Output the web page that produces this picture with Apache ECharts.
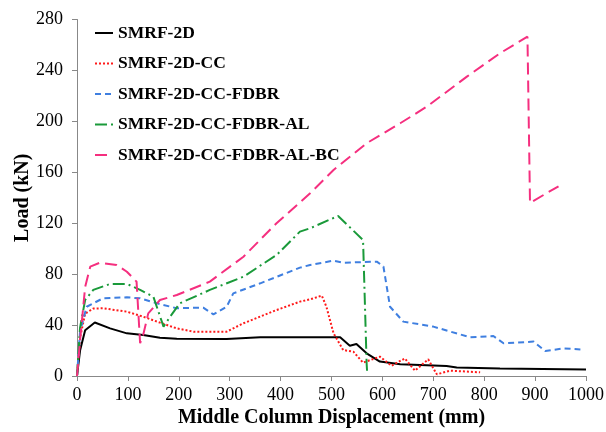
<!DOCTYPE html>
<html>
<head>
<meta charset="utf-8">
<script src="https://cdn.jsdelivr.net/npm/echarts@6/dist/echarts.min.js"></script>
<style>
  html, body { margin: 0; padding: 0; background: #fff; }
  #main { width: 606px; height: 432px; }
</style>
</head>
<body>
<div id="main"></div>
<script>
// [displacement mm, load kN]
const smrf2d = [[0, 0], [6, 20], [16, 36], [35, 42], [65, 37.4], [98, 33.5], [130, 32.2], [163, 30.1],
  [196, 29.3], [294, 29.1], [360, 30.4], [458, 30.4], [517, 30.4], [536, 23.8], [549, 25.1],
  [569, 17.8], [595, 11.3], [635, 9.2], [726, 7.9], [746, 6.6], [831, 5.8], [1000, 5.2]];

const smrf2dCC = [[0, 0], [6, 30], [16, 49], [32, 53], [51, 53.2], [98, 50.5], [130, 46.6], [163, 41.9],
  [196, 37.4], [229, 34.8], [294, 34.8], [327, 41.4], [392, 51.8], [438, 58.4], [458, 60.2],
  [481, 63.1], [490, 54.4], [504, 33.5], [523, 20.4], [543, 19.1], [562, 10.5], [595, 15.2],
  [618, 8.1], [644, 13.8], [664, 4.2], [690, 13.1], [707, 1.3], [733, 4.2], [792, 2.9]];

const smrf2dCCFdbr = [[0, 0], [6, 35], [19, 54.4], [51, 61], [98, 61.8], [124, 61], [157, 57.1], [196, 53.2],
  [248, 53.7], [268, 48.4], [294, 54.4], [307, 64.9], [360, 72.8], [438, 85.1], [458, 87.2],
  [504, 90.6], [523, 89], [589, 89.8], [602, 86], [615, 54.4], [641, 42.7], [700, 38.8],
  [772, 30.4], [818, 31.4], [838, 25.7], [897, 27], [920, 19.6], [956, 21.7], [989, 20.9]];

const smrf2dCCFdbrAL = [[0, 0], [6, 38], [16, 59.7], [32, 67.6], [65, 72.3], [98, 72.3], [124, 67.6],
  [150, 62.3], [170, 38.8], [183, 46.6], [202, 57.1], [261, 67.6], [327, 78], [392, 95],
  [438, 113.4], [458, 116], [513, 125.7], [562, 106.8], [569, 10], [570, 3]];

const smrf2dCCFdbrALBC = [[0, 0], [6, 28], [16, 70], [26, 85.9], [45, 89], [78, 87.2], [98, 81.9],
  [117, 74.1], [124, 25.7], [130, 32.2], [140, 49.2], [163, 59.7], [196, 63.6], [261, 74.1],
  [327, 93.7], [392, 120], [458, 143.5], [504, 161.8], [569, 182.8], [635, 198.5], [687, 211.5],
  [766, 235.1], [831, 253.5], [885, 266.5], [890, 136], [946, 149]];

const xTicks = { min: 0, max: 1000, interval: 100 };
const yTicks = { min: 0, max: 280, interval: 40 };

const font = 'Liberation Serif';
const chart = echarts.init(document.getElementById('main'), null, { renderer: 'canvas' });

function line(name, data, color, type, width) {
  return {
    name: name,
    type: 'line',
    data: data,
    showSymbol: false,
    symbol: 'none',
    lineStyle: { color: color, width: width || 2, type: type },
    itemStyle: { color: color }
  };
}

const option = {
  animation: false,
  backgroundColor: '#fff',
  grid: { left: 77, right: 20, top: 19.5, bottom: 56, containLabel: false, outerBoundsMode: 'none' },
  legend: {
    orient: 'vertical',
    left: 89,
    top: 19,
    itemGap: 12.5,
    itemWidth: 18,
    itemHeight: 14,
    itemStyle: { color: 'rgba(0,0,0,0)', borderColor: 'rgba(0,0,0,0)', borderWidth: 0 },
    textStyle: { fontFamily: font, fontWeight: 'bold', fontSize: 17.5, color: '#000' },
    data: ['SMRF-2D', 'SMRF-2D-CC', 'SMRF-2D-CC-FDBR', 'SMRF-2D-CC-FDBR-AL', 'SMRF-2D-CC-FDBR-AL-BC']
  },
  xAxis: {
    type: 'value',
    min: xTicks.min, max: xTicks.max, interval: xTicks.interval,
    name: 'Middle Column Displacement (mm)',
    nameLocation: 'middle',
    nameGap: 32,
    nameMoveOverlap: false,
    nameTextStyle: { fontFamily: font, fontWeight: 'bold', fontSize: 20, color: '#000' },
    axisLine: { lineStyle: { color: '#888', width: 1 } },
    axisTick: { show: true, length: 5, lineStyle: { color: '#888' } },
    axisLabel: { fontFamily: font, fontSize: 18, color: '#000', margin: 10, formatter: v => String(v) },
    splitLine: { show: false }
  },
  yAxis: {
    type: 'value',
    min: yTicks.min, max: yTicks.max, interval: yTicks.interval,
    name: 'Load (kN)',
    nameLocation: 'middle',
    nameGap: 44,
    nameMoveOverlap: false,
    nameTextStyle: { fontFamily: font, fontWeight: 'bold', fontSize: 20, color: '#000' },
    axisLine: { show: true, lineStyle: { color: '#888', width: 1 } },
    axisTick: { show: true, length: 5, lineStyle: { color: '#888' } },
    axisLabel: { fontFamily: font, fontSize: 18, color: '#000', margin: 14 },
    splitLine: { show: false }
  },
  series: [
    line('SMRF-2D', smrf2d, '#000000', 'solid', 2),
    line('SMRF-2D-CC', smrf2dCC, '#ff1a1a', [2, 2], 2),
    line('SMRF-2D-CC-FDBR', smrf2dCCFdbr, '#3f7fe0', [6, 4], 2),
    line('SMRF-2D-CC-FDBR-AL', smrf2dCCFdbrAL, '#1a9a3a', [12, 4, 2, 4], 2),
    line('SMRF-2D-CC-FDBR-AL-BC', smrf2dCCFdbrALBC, '#f52f7f', [12, 6], 2)
  ]
};

chart.setOption(option);
</script>
</body>
</html>
